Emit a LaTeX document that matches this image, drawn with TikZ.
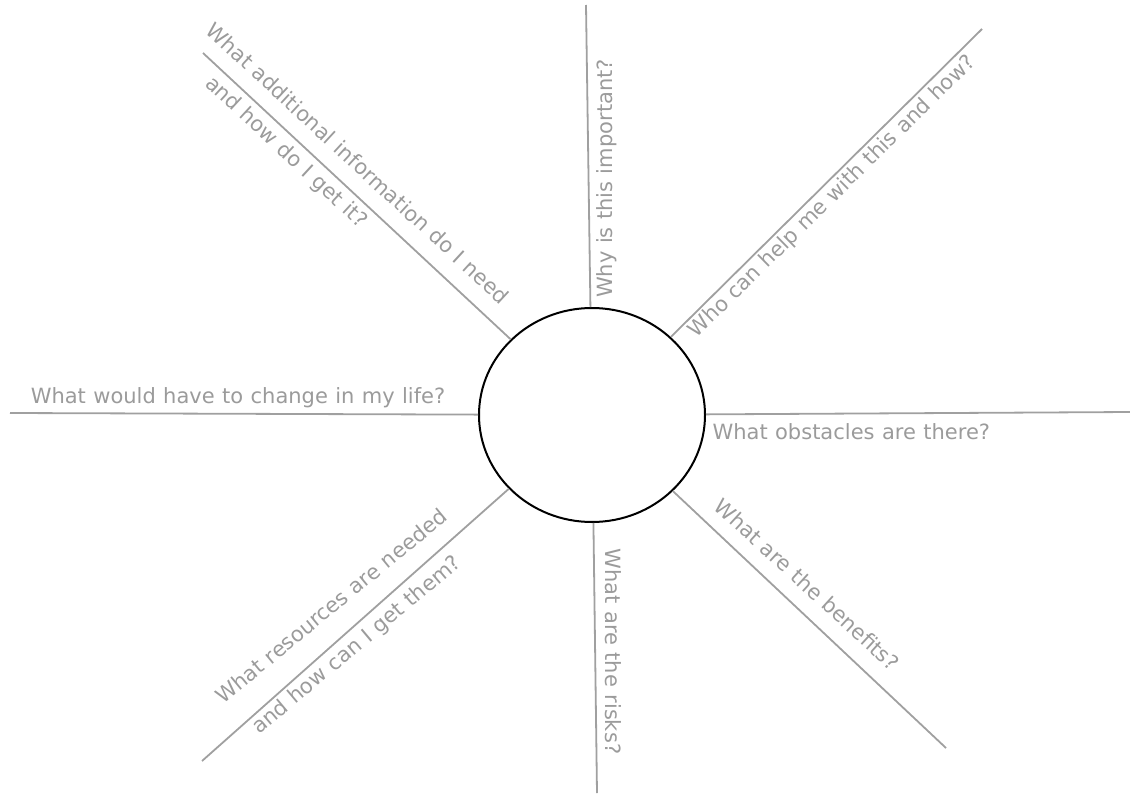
\documentclass[tikz,border=0pt]{standalone}
\usepackage{fontspec}
\setmainfont[WordSpace=1.107]{DejaVu Sans}
\usetikzlibrary{shapes.geometric}
\definecolor{linegray}{RGB}{160,160,160}
\definecolor{textgray}{RGB}{155,155,155}
\begin{document}
\begin{tikzpicture}[x=1pt,y=-1pt,
  spoke/.style={draw=linegray,line width=1.8pt},
  hub/.style={ellipse,draw=black,line width=2pt,minimum width=226pt,minimum height=214pt,inner sep=0pt},
  qtext/.style={text=textgray,inner sep=0pt,anchor=base,font=\fontsize{21}{25}\selectfont}]
\useasboundingbox (0,0) rectangle (1130,795);
\node[hub] (c) at (592,415) {};
% outer ends of the spokes
\coordinate (pu)  at (586,5);
\coordinate (pur) at (982,29);
\coordinate (pr)  at (1130,412);
\coordinate (plr) at (946,748);
\coordinate (pd)  at (597,793);
\coordinate (pll) at (202,761);
\coordinate (pl)  at (10,413);
\coordinate (pul) at (203,53);
\foreach \p in {pu,pur,pr,plr,pd,pll,pl,pul} \draw[spoke] (c) -- (\p);
% labels
\node[qtext,rotate=-42.7] (t1) at (352.5,169) {What additional information do I need};
\node[qtext,rotate=-42.7] (t2) at (282,157) {and how do I get it?};
\node[qtext,rotate=90] (t3) at (612,178.5) {Why is this important?};
\node[qtext,rotate=44.5] (t4) at (836.5,201) {Who can help me with this and how?};
\node[qtext] (t5) at (238,403.3) {What would have to change in my life?};
\node[qtext] (t6) at (851.3,439.3) {What obstacles are there?};
\node[qtext,rotate=-42.5] (t7) at (802,590) {What are the benefits?};
\node[qtext,rotate=-90] (t8) at (605,651.5) {What are the risks?};
\node[qtext,rotate=39.5] (t9) at (336,612) {What resources are needed};
\node[qtext,rotate=40] (t10) at (361,650) {and how can I get them?};
\end{tikzpicture}
\end{document}
